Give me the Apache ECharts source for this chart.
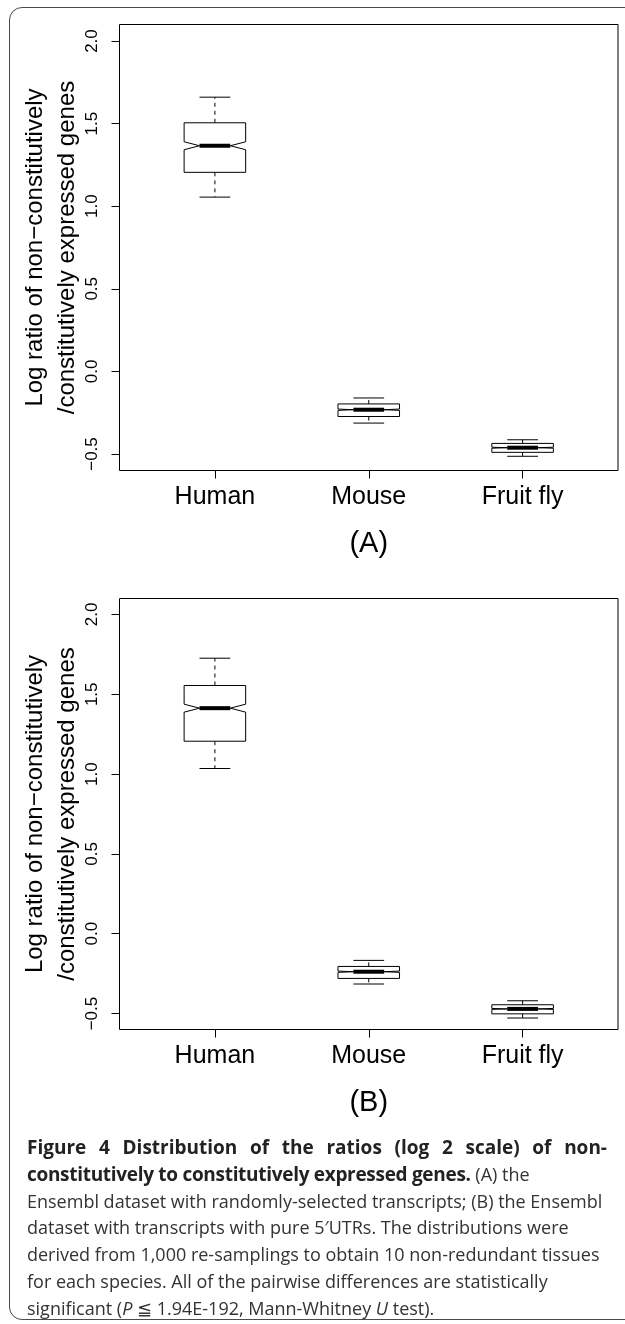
<!DOCTYPE html>
<html lang="en">
<head>
<meta charset="utf-8">
<script src="https://cdn.jsdelivr.net/npm/echarts@6.0.0/dist/echarts.min.js"></script>
<style type="text/css">
	html, body { margin: 0; padding: 0; background: #fff; overflow: hidden; }
	body { width: 625px; height: 1324px; position: relative; }
	/*外框*/
	.frame {
		position: absolute; left: 9px; top: 7px;
		width: 700px; height: 1311px;
		border: 1.5px solid #4a4a4a; border-radius: 13px;
	}
	#chart { position: absolute; left: 0; top: 0; width: 625px; height: 1324px; }
	.caption { position: absolute; left: 27px; top: 1134px; width: 580px; font-family: "Open Sans", sans-serif; font-size: 18px; line-height: 26.8px; color: #333; }
	.caption div { white-space: nowrap; }
	.caption .just { text-align: justify; text-align-last: justify; white-space: normal; font-size: 19px; }
	.caption .b2 { font-size: 19px; letter-spacing: -0.3px; }
	.caption b { color: #222; }
</style>
</head>
<body>
	<div class="frame"></div>
	<div id="chart"></div>
	<div class="caption">
		<div class="just"><b>Figure 4 Distribution of the ratios (log 2 scale) of non-</b></div>
		<div><b class="b2">constitutively to constitutively expressed genes.</b> (A) the</div>
		<div>Ensembl dataset with randomly-selected transcripts; (B) the Ensembl</div>
		<div>dataset with transcripts with pure 5′UTRs. The distributions were</div>
		<div>derived from 1,000 re-samplings to obtain 10 non-redundant tissues</div>
		<div>for each species. All of the pairwise differences are statistically</div>
		<div>significant (<i>P</i> ≦ 1.94E-192, Mann-Whitney <i>U</i> test).</div>
	</div>

<script type="text/javascript">
	// 数据
	var species = ['Human', 'Mouse', 'Fruit fly'];
	var yTicks = [-0.5, 0, 0.5, 1, 1.5, 2];

	// (A) randomly-selected transcripts
	var lowA   = [1.055, -0.313, -0.514];
	var q1A    = [1.205, -0.273, -0.490];
	var medA   = [1.366, -0.232, -0.462];
	var q3A    = [1.505, -0.197, -0.436];
	var highA  = [1.660, -0.161, -0.414];
	var notchA = [0.024, 0.004, 0.003];

	// (B) pure 5'UTRs
	var lowB   = [1.035, -0.315, -0.528];
	var q1B    = [1.206, -0.280, -0.502];
	var medB   = [1.413, -0.238, -0.471];
	var q3B    = [1.555, -0.205, -0.445];
	var highB  = [1.726, -0.167, -0.420];
	var notchB = [0.025, 0.004, 0.003];

	function rows(lo, q1, md, q3, hi, nt) {
		return species.map(function (s, i) {
			return [i + 1, lo[i], q1[i], md[i], q3[i], hi[i], nt[i]];
		});
	}

	// notched box like R's boxplot(notch=TRUE)
	function renderBox(params, api) {
		var x = api.value(0);
		var hw = api.size([0.4, 0])[0] / 2;
		var c = function (v) { return api.coord([x, v]); };
		var cx = c(api.value(3))[0];
		var yLo = c(api.value(1))[1], yQ1 = c(api.value(2))[1], yMd = c(api.value(3))[1];
		var yQ3 = c(api.value(4))[1], yHi = c(api.value(5))[1];
		var n = api.value(6);
		var yNl = c(api.value(3) - n)[1], yNh = c(api.value(3) + n)[1];
		var stroke = { stroke: '#000', lineWidth: 1, fill: null };
		var dashed = { stroke: '#000', lineWidth: 1, lineDash: [4, 4] };
		return {
			type: 'group',
			children: [
				{ type: 'line', shape: { x1: cx, y1: yQ3, x2: cx, y2: yHi }, style: dashed },
				{ type: 'line', shape: { x1: cx, y1: yQ1, x2: cx, y2: yLo }, style: dashed },
				{ type: 'line', shape: { x1: cx - hw / 2, y1: yHi, x2: cx + hw / 2, y2: yHi }, style: stroke },
				{ type: 'line', shape: { x1: cx - hw / 2, y1: yLo, x2: cx + hw / 2, y2: yLo }, style: stroke },
				{
					type: 'polygon',
					shape: {
						points: [
							[cx - hw, yQ1], [cx + hw, yQ1], [cx + hw, yNl], [cx + hw / 2, yMd], [cx + hw, yNh],
							[cx + hw, yQ3], [cx - hw, yQ3], [cx - hw, yNh], [cx - hw / 2, yMd], [cx - hw, yNl]
						]
					},
					style: { stroke: '#000', lineWidth: 1, fill: '#fff' }
				},
				{ type: 'line', shape: { x1: cx - hw / 2, y1: yMd, x2: cx + hw / 2, y2: yMd }, style: { stroke: '#000', lineWidth: 4 } }
			]
		};
	}

	var font = '"Liberation Sans", Arial, sans-serif';

	function xAxis(idx, name) {
		return {
			gridIndex: idx, type: 'value', min: 0.38, max: 3.62, position: 'bottom',
			name: name, nameLocation: 'middle', nameGap: 58, nameMoveOverlap: false,
			nameTextStyle: { fontSize: 29, fontFamily: font, color: '#000', lineHeight: 30 },
			axisLine: { show: false, onZero: false },
			axisTick: { show: true, inside: false, customValues: [1, 2, 3], length: 8, lineStyle: { color: '#000', width: 1 } },
			axisLabel: {
				customValues: [1, 2, 3], margin: 14, fontSize: 25, fontFamily: font, color: '#000', lineHeight: 25,
				formatter: function (v) { return species[Math.round(v) - 1]; }
			},
			splitLine: { show: false }
		};
	}

	function yAxis(idx) {
		return {
			gridIndex: idx, type: 'value', min: -0.6, max: 2.1, position: 'left',
			name: 'Log ratio of non\u2212constitutively\n/constitutively expressed genes',
			nameLocation: 'middle', nameRotate: 90, nameGap: 36, nameMoveOverlap: false,
			nameTextStyle: { fontSize: 24, fontFamily: font, color: '#000', lineHeight: 32 },
			axisLine: { show: false, onZero: false },
			axisTick: { show: true, inside: false, customValues: yTicks, length: 8, lineStyle: { color: '#000', width: 1 } },
			axisLabel: {
				customValues: yTicks, rotate: 90, margin: 19, fontSize: 17, fontFamily: font, color: '#000',
				formatter: function (v) { return (v < 0 ? '\u2212' : '') + Math.abs(v).toFixed(1); }
			},
			splitLine: { show: false }
		};
	}

	var chart = echarts.init(document.getElementById('chart'), null, { renderer: 'canvas' });
	chart.setOption({
		backgroundColor: 'transparent',
		animation: false,
		grid: [
			{ left: 119.5, right: 7, top: 24.5, height: 446, show: true, borderColor: '#000', borderWidth: 1, backgroundColor: 'transparent' },
			{ left: 119.5, right: 7, top: 598.5, height: 431, show: true, borderColor: '#000', borderWidth: 1, backgroundColor: 'transparent' }
		],
		xAxis: [xAxis(0, '(A)'), xAxis(1, '(B)')],
		yAxis: [yAxis(0), yAxis(1)],
		series: [
			{ type: 'custom', xAxisIndex: 0, yAxisIndex: 0, renderItem: renderBox, data: rows(lowA, q1A, medA, q3A, highA, notchA) },
			{ type: 'custom', xAxisIndex: 1, yAxisIndex: 1, renderItem: renderBox, data: rows(lowB, q1B, medB, q3B, highB, notchB) }
		]
	});
</script>
</body>
</html>
